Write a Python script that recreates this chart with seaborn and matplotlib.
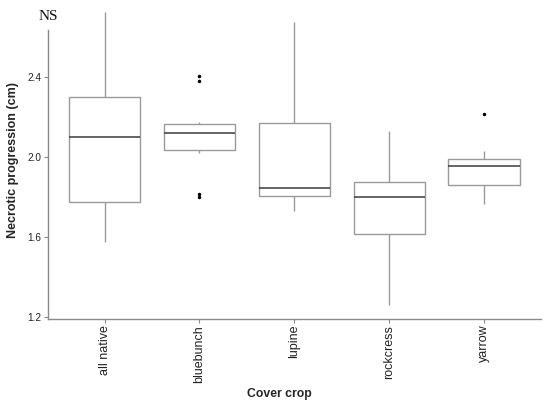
import seaborn as sns
import matplotlib.pyplot as plt
import pandas as pd

crops = ["all native", "bluebunch", "lupine", "rockcress", "yarrow"]
all_native = [1.578, 1.70, 1.775, 1.95, 2.10, 2.20, 2.30, 2.50, 2.725]
bluebunch = [1.80, 1.818, 2.022, 2.037, 2.07, 2.10, 2.123, 2.14, 2.16,
             2.168, 2.177, 2.38, 2.405]
lupine = [1.733, 1.78, 1.807, 1.83, 1.847, 2.00, 2.17, 2.40, 2.673]
rockcress = [1.263, 1.45, 1.617, 1.72, 1.80, 1.84, 1.877, 2.00, 2.13]
yarrow = [1.768, 1.82, 1.86, 1.92, 1.955, 1.97, 1.993, 2.033, 2.215]
yticks = [1.2, 1.6, 2.0, 2.4]

groups = [all_native, bluebunch, lupine, rockcress, yarrow]
df = pd.DataFrame({
    "crop": [c for c, g in zip(crops, groups) for _ in g],
    "necrosis": [v for g in groups for v in g],
})

sns.set_theme(style="ticks")
plt.rcParams["font.family"] = ["Liberation Sans", "DejaVu Sans"]

fig = plt.figure(figsize=(5.5, 4.04), dpi=100)
ax = fig.add_axes([0.0867, 0.2097, 0.8969, 0.7903])

sns.boxplot(
    data=df, x="crop", y="necrosis", order=crops, width=0.75,
    color="white", linecolor="#9a9a9a", linewidth=1.0, showcaps=False,
    medianprops={"color": "#3a3a3a", "linewidth": 1.1},
    flierprops={"marker": "o", "markersize": 1.5, "markerfacecolor": "black",
                "markeredgecolor": "black"},
    ax=ax,
)

ax.set_xlim(-0.6, 4.6)
ax.set_ylim(1.19, 2.785)
ax.set_yticks(yticks)
ax.set_yticklabels([f"{t:.1f}" for t in yticks])

for s in ["top", "right"]:
    ax.spines[s].set_visible(False)
for s in ["left", "bottom"]:
    ax.spines[s].set_color("#8a8a8a")
    ax.spines[s].set_linewidth(1.0)
ax.spines["left"].set_bounds(1.19, 2.635)

ax.tick_params(axis="both", which="major", bottom=True, left=True, direction="out",
               length=3, width=0.8, color="#8a8a8a", labelcolor="#222222", pad=1.5)
ax.tick_params(axis="y", labelsize=7.2)
ax.tick_params(axis="x", labelsize=9.0, labelrotation=90, pad=1)

ax.set_xlabel("Cover crop", fontsize=8.8, fontweight="bold")
ax.xaxis.set_label_coords(0.47, -0.215)
ax.set_ylabel("Necrotic progression (cm)", fontsize=9.0, fontweight="bold", labelpad=6)

fig.text(0.087, 0.975, "NS", family=["Liberation Serif", "DejaVu Serif"],
         fontsize=11, ha="center", va="top", color="#111111")

fig.savefig("out.png", dpi=100)
